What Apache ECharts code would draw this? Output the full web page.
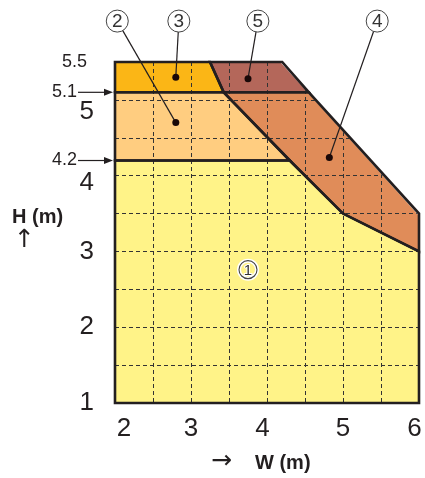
<!DOCTYPE html>
<html>
<head>
<meta charset="utf-8">
<script src="https://cdn.jsdelivr.net/npm/echarts@6/dist/echarts.min.js"></script>
<style>
html, body { margin: 0; padding: 0; background: #fff; }
#chart { width: 425px; height: 478px; }
</style>
</head>
<body>
<div id="chart"></div>
<script>
// axis range (W, H in m)
const wRange = [2, 6]
const hRange = [1, 5.5]

// zones, vertices as [W, H]
const zone1 = [[2, 1], [6, 1], [6, 3], [5, 3.5], [4.3, 4.2], [2, 4.2]]
const zone2 = [[2, 4.2], [4.3, 4.2], [3.43, 5.1], [2, 5.1]]
const zone3 = [[2, 5.1], [3.43, 5.1], [3.25, 5.5], [2, 5.5]]
const zone4 = [[3.43, 5.1], [4.55, 5.1], [6, 3.5], [6, 3], [5, 3.5], [4.3, 4.2]]
const zone5 = [[3.25, 5.5], [4.2, 5.5], [4.55, 5.1], [3.43, 5.1]]
const zones = [zone1, zone2, zone3, zone4, zone5]
const zoneColors = ['#fff388', '#ffcd80', '#fbb616', '#e08c59', '#b4675a']

// corner outside all zones (no grid there)
const outside = [[4.2, 5.5], [6, 5.5], [6, 3.5]]

// marked heights on the left
const heightMarks = [5.5, 5.1, 4.2]
const arrowMarks = [5.1, 4.2]

// circled tags: [number, tag W, tag H, dot W, dot H]
const tags = [
	['2', 2.03, 6.04, 2.8, 4.7],
	['3', 2.84, 6.04, 2.8, 5.3],
	['5', 3.88, 6.04, 3.75, 5.28],
	['4', 5.45, 6.04, 4.82, 4.24]
]
const innerTag = ['1', 3.75, 2.76]

const ink = '#231f20'
const font = '"Liberation Sans", Arial, sans-serif'

const chart = echarts.init(document.getElementById('chart'))

function fillZone(params, api) {
	const pts = zones[params.dataIndex].map(p => api.coord(p))
	return { type: 'polygon', shape: { points: pts }, style: { fill: zoneColors[params.dataIndex] } }
}

function edgeZone(params, api) {
	const pts = zones[params.dataIndex].map(p => api.coord(p))
	return {
		type: 'polygon',
		shape: { points: pts },
		style: { fill: 'none', stroke: ink, lineWidth: 2.6, lineJoin: 'miter' }
	}
}

function blankCorner(params, api) {
	const pts = outside.map(p => api.coord(p))
	return { type: 'polygon', shape: { points: pts }, style: { fill: '#fff', stroke: '#fff', lineWidth: 3 } }
}

function heightMark(params, api) {
	const h = heightMarks[params.dataIndex]
	const p = api.coord([wRange[0], h])
	const withArrow = arrowMarks.includes(h)
	const children = [
		{
			type: 'text',
			x: p[0] - (withArrow ? 38 : 28),
			y: p[1],
			style: {
				text: String(h),
				fontSize: 18,
				fontFamily: font,
				fill: ink,
				align: 'right',
				verticalAlign: 'middle'
			}
		}
	]
	if (withArrow) {
		children.push({
			type: 'line',
			shape: { x1: p[0] - 37, y1: p[1], x2: p[0] - 9, y2: p[1] },
			style: { stroke: ink, lineWidth: 1.2 }
		})
		children.push({
			type: 'polygon',
			shape: { points: [[p[0] - 2, p[1]], [p[0] - 11, p[1] - 3.5], [p[0] - 11, p[1] + 3.5]] },
			style: { fill: ink }
		})
	}
	return { type: 'group', children }
}

function tagMark(params, api) {
	const t = tags[params.dataIndex]
	const c = api.coord([t[1], t[2]])
	const d = api.coord([t[3], t[4]])
	const r = 11
	const dx = d[0] - c[0]
	const dy = d[1] - c[1]
	const len = Math.hypot(dx, dy)
	return {
		type: 'group',
		children: [
			{
				type: 'line',
				shape: { x1: c[0] + (dx / len) * r, y1: c[1] + (dy / len) * r, x2: d[0], y2: d[1] },
				style: { stroke: ink, lineWidth: 1.2 }
			},
			{ type: 'circle', shape: { cx: c[0], cy: c[1], r: r }, style: { fill: '#fff', stroke: '#444', lineWidth: 1 } },
			{
				type: 'text',
				x: c[0],
				y: c[1] + 1,
				style: { text: t[0], fontSize: 19, fontFamily: font, fill: '#333', align: 'center', verticalAlign: 'middle' }
			},
			{ type: 'circle', shape: { cx: d[0], cy: d[1], r: 3.5 }, style: { fill: '#1a0808' } }
		]
	}
}

function innerTagMark(params, api) {
	const c = api.coord([innerTag[1], innerTag[2]])
	return {
		type: 'group',
		children: [
			{ type: 'circle', shape: { cx: c[0], cy: c[1], r: 9 }, style: { fill: 'none', stroke: '#fff', lineWidth: 4 } },
			{ type: 'circle', shape: { cx: c[0], cy: c[1], r: 9 }, style: { fill: 'none', stroke: '#444', lineWidth: 1.1 } },
			{
				type: 'text',
				x: c[0],
				y: c[1] + 1,
				style: {
					text: innerTag[0],
					fontSize: 15,
					fontFamily: font,
					fill: '#333',
					stroke: '#fff',
					lineWidth: 2,
					align: 'center',
					verticalAlign: 'middle'
				}
			}
		]
	}
}

const dashed = { show: true, lineStyle: { color: '#333', width: 1, type: [4, 3] } }

chart.setOption({
	animation: false,
	grid: { left: 115, right: 6, top: 62, bottom: 75, containLabel: false, outerBoundsMode: 'none' },
	xAxis: {
		type: 'value',
		min: wRange[0],
		max: wRange[1],
		interval: 0.5,
		z: 3,
		axisLine: { show: false },
		axisTick: { show: false },
		splitLine: dashed,
		axisLabel: {
			margin: 13,
			formatter: v => {
				if (v % 1 !== 0) return ''
				if (v === 2) return '{l|2}'
				if (v === 4 || v === 6) return '{r|' + v + '}'
				return '{n|' + v + '}'
			},
			rich: {
				n: { fontSize: 26, fontFamily: font, color: ink },
				l: { fontSize: 26, fontFamily: font, color: ink, padding: [0, 0, 0, 18] },
				r: { fontSize: 26, fontFamily: font, color: ink, padding: [0, 9, 0, 0] }
			}
		}
	},
	yAxis: {
		type: 'value',
		min: hRange[0],
		max: hRange[1],
		interval: 0.5,
		z: 3,
		axisLine: { show: false },
		axisTick: { show: false },
		splitLine: dashed,
		axisLabel: {
			margin: 21,
			formatter: v => {
				if (v % 1 !== 0) return ''
				if (v === 5) return '{a|5}'
				if (v === 4) return '{b|4}'
				return '{n|' + v + '}'
			},
			rich: {
				n: { fontSize: 26, fontFamily: font, color: ink },
				a: { fontSize: 26, fontFamily: font, color: ink, padding: [24, 0, 0, 0] },
				b: { fontSize: 26, fontFamily: font, color: ink, padding: [14, 0, 0, 0] }
			}
		}
	},
	graphic: [
		{ type: 'text', left: 12, top: 207, style: { text: 'H (m)', fontSize: 20, fontWeight: 'bold', fontFamily: font, fill: ink } },
		{ type: 'text', left: 14, top: 228, style: { text: '↑', fontSize: 25, fontFamily: '"DejaVu Sans", sans-serif', fill: ink } },
		{ type: 'text', left: 211, top: 449, style: { text: '→', fontSize: 25, fontFamily: '"DejaVu Sans", sans-serif', fill: ink } },
		{ type: 'text', left: 255, top: 453, style: { text: 'W (m)', fontSize: 20, fontWeight: 'bold', fontFamily: font, fill: ink } }
	],
	series: [
		{ type: 'custom', name: 'zones', z: 1, silent: true, renderItem: fillZone, data: zones.map(z => z[0]) },
		{ type: 'custom', name: 'outside', z: 5, silent: true, renderItem: blankCorner, data: [outside[0]] },
		{ type: 'custom', name: 'edges', z: 6, silent: true, renderItem: edgeZone, data: zones.map(z => z[0]) },
		{ type: 'custom', name: 'heights', z: 7, silent: true, clip: false, renderItem: heightMark, data: heightMarks.map(h => [wRange[0], h]) },
		{ type: 'custom', name: 'tags', z: 7, silent: true, clip: false, renderItem: tagMark, data: tags.map(t => [t[1], t[2]]) },
		{ type: 'custom', name: 'innerTag', z: 7, silent: true, clip: false, renderItem: innerTagMark, data: [[innerTag[1], innerTag[2]]] }
	]
})
</script>
</body>
</html>
